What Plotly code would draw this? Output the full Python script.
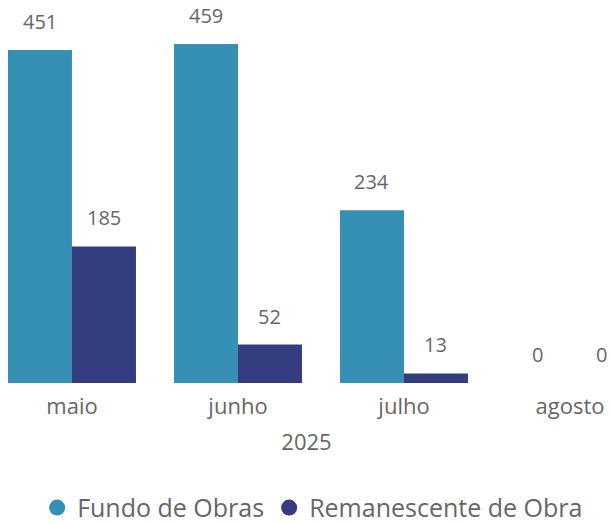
import plotly.graph_objects as go

months = ["maio", "junho", "julho", "agosto"]
year_label = "2025"
fundo = [451, 459, 234, 0]
remanescente = [185, 52, 13, 0]
series_names = ["Fundo de Obras", "Remanescente de Obra"]
colors = ["#3690B6", "#343D80"]

FONT = "Open Sans"
TXT = "#666666"
xs = list(range(len(months)))

fig = go.Figure()
for vals, name, col in zip([fundo, remanescente], series_names, colors):
    fig.add_trace(go.Bar(x=xs, y=vals, name=name, marker=dict(color=col, line=dict(width=0)),
                         showlegend=False, hoverinfo="skip"))
# legend entries with circle markers
for name, col in zip(series_names, colors):
    fig.add_trace(go.Scatter(x=[None], y=[None], mode="markers", name=name,
                             marker=dict(color=col, size=20, symbol="circle")))

# value labels
for vals, shift in zip([fundo, remanescente], [-32, 32]):
    for x, v in zip(xs, vals):
        fig.add_annotation(x=x, y=v, xshift=shift, yshift=13, yanchor="bottom",
                           text=str(v), showarrow=False,
                           font=dict(family=FONT, size=20, color=TXT))

fig.update_layout(
    width=613, height=524,
    margin=dict(l=0, r=0, t=0, b=141, autoexpand=False),
    paper_bgcolor="white", plot_bgcolor="white",
    barmode="group", bargap=0.229, bargroupgap=0,
    font=dict(family=FONT, color=TXT),
    legend=dict(orientation="h", x=0.51, xanchor="center", y=-0.326, yanchor="middle",
                font=dict(family=FONT, size=25, color=TXT), itemwidth=30,
                tracegroupgap=0),
    xaxis=dict(tickvals=xs, ticktext=months, range=[-0.4337, 3.2591], automargin=False,
               showgrid=False, zeroline=False, showline=False, ticks="",
               ticklabelstandoff=8,
               tickfont=dict(family=FONT, size=22, color=TXT),
               title=dict(text=year_label, font=dict(family=FONT, size=22, color=TXT), standoff=15)),
    yaxis=dict(range=[0, 518.7], visible=False, showgrid=False, zeroline=False, automargin=False),
)

fig.write_html("out.html", config={"displayModeBar": False},
               post_script="document.body.style.margin='0';document.body.style.overflow='hidden';")
